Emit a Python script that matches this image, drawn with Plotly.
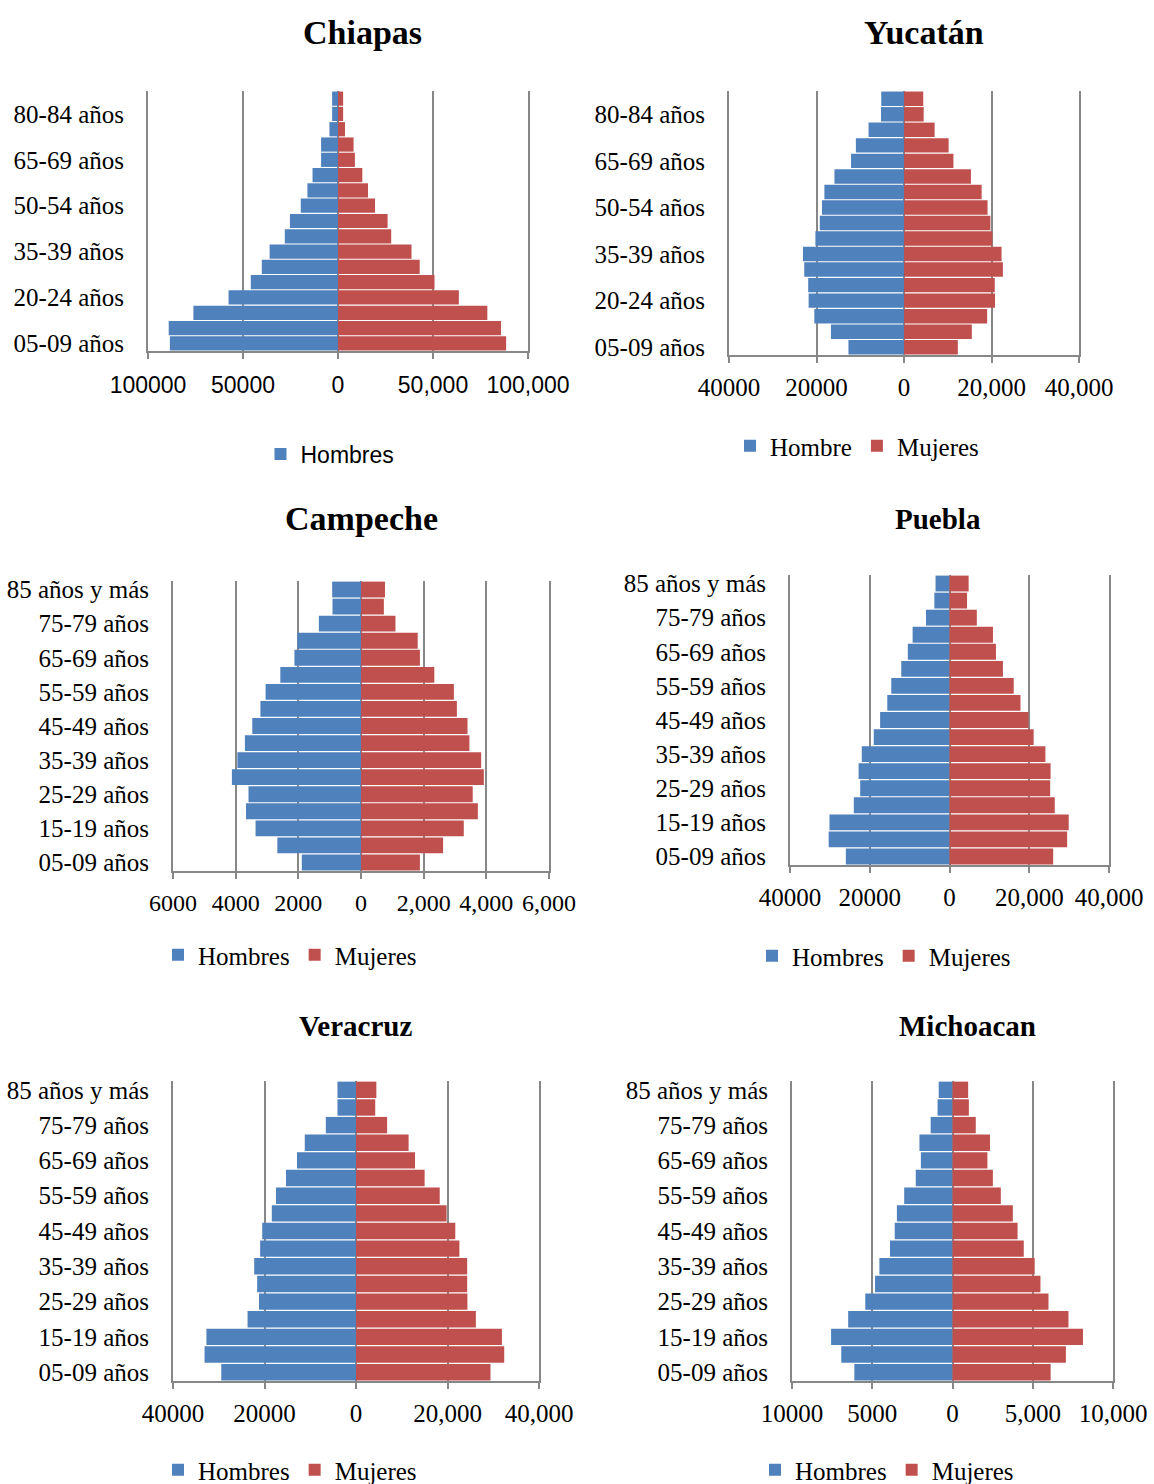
import plotly.graph_objects as go

# ---------------- data ----------------
categories = ["05-09 años", "10-14 años", "15-19 años", "20-24 años", "25-29 años",
              "30-34 años", "35-39 años", "40-44 años", "45-49 años", "50-54 años",
              "55-59 años", "60-64 años", "65-69 años", "70-74 años", "75-79 años",
              "80-84 años", "85 años y más"]

chiapas_hombres = [88500, 89100, 76100, 57600, 45900, 40100, 36000, 28000, 25300, 19600,
                   16100, 13400, 8900, 8900, 4500, 3100, 3100]
chiapas_mujeres = [88500, 85800, 78600, 63600, 50800, 43000, 38700, 28000, 26100, 19500,
                   15800, 12800, 8900, 8200, 3700, 2700, 2700]

yucatan_hombre = [12700, 16700, 20500, 21800, 21900, 22800, 23100, 20250, 19250, 18750,
                  18200, 15900, 12100, 11000, 8100, 5250, 5200]
yucatan_mujeres = [12300, 15500, 19000, 20800, 20750, 22600, 22300, 20200, 19750, 19100,
                   17750, 15300, 11300, 10200, 7000, 4500, 4400]

campeche_hombres = [1890, 2670, 3365, 3670, 3590, 4120, 3945, 3705, 3470, 3210,
                    3045, 2575, 2125, 2030, 1345, 910, 920]
campeche_mujeres = [1880, 2620, 3280, 3730, 3565, 3920, 3835, 3460, 3400, 3060,
                    2965, 2340, 1880, 1810, 1100, 730, 765]

puebla_hombres = [26000, 30300, 30100, 24000, 22400, 22800, 22000, 19000, 17400, 15600,
                  14600, 12100, 10450, 9250, 5900, 3800, 3500]
puebla_mujeres = [26000, 29500, 29900, 26400, 25250, 25350, 24050, 21100, 19800, 17800,
                  16100, 13400, 11650, 10900, 6850, 4400, 4800]

veracruz_hombres = [29450, 33100, 32700, 23700, 21200, 21600, 22250, 20950, 20500, 18400,
                    17500, 15300, 12900, 11200, 6600, 4050, 4050]
veracruz_mujeres = [29400, 32400, 31900, 26200, 24350, 24300, 24300, 22600, 21700, 19800,
                    18300, 15000, 12900, 11500, 6800, 4200, 4450]

michoacan_hombres = [6115, 6930, 7565, 6500, 5435, 4825, 4555, 3895, 3600, 3465,
                     3010, 2290, 1970, 2060, 1360, 930, 860]
michoacan_mujeres = [6115, 7065, 8130, 7225, 5980, 5480, 5120, 4440, 4055, 3760,
                     3010, 2515, 2175, 2335, 1450, 1020, 975]

ticks_100k = [-100000, -50000, 0, 50000, 100000]
ticktext_100k = ["100000", "50000", "0", "50,000", "100,000"]
ticks_40k = [-40000, -20000, 0, 20000, 40000]
ticktext_40k = ["40000", "20000", "0", "20,000", "40,000"]
ticks_6k = [-6000, -4000, -2000, 0, 2000, 4000, 6000]
ticktext_6k = ["6000", "4000", "2000", "0", "2,000", "4,000", "6,000"]
ticks_10k = [-10000, -5000, 0, 5000, 10000]
ticktext_10k = ["10000", "5000", "0", "5,000", "10,000"]

titles = ["Chiapas", "Yucatán", "Campeche", "Puebla", "Veracruz", "Michoacan"]

# ---------------- style ----------------
W, H = 1154, 1484
BLUE = "#4F81BD"
RED = "#C0504D"
GRID = "#878787"
SERIF = "Liberation Serif"
SANS = "Liberation Sans"

fig = go.Figure()

panels = [
    dict(title=titles[0], h=chiapas_hombres, m=chiapas_mujeres, nh="Hombres", legm=False,
         tv=ticks_100k, tt=ticktext_100k, step=3, box=(148, 528, 91, 351),
         tpos=(362, 32), tsize=34, lpos=(330, 454), tfont=SANS, tfsize=23, lfont=SANS, lfsize=23,
         xstand=6),
    dict(title=titles[1], h=yucatan_hombre, m=yucatan_mujeres, nh="Hombre", legm=True,
         tv=ticks_40k, tt=ticktext_40k, step=3, box=(729, 1079, 91, 355),
         tpos=(924, 32), tsize=34, lpos=(857, 446), tfont=SERIF, tfsize=25, lfont=SERIF, lfsize=25,
         xstand=3),
    dict(title=titles[2], h=campeche_hombres, m=campeche_mujeres, nh="Hombres", legm=True,
         tv=ticks_6k, tt=ticktext_6k, step=2, box=(173, 549, 581, 871),
         tpos=(361, 518), tsize=34, lpos=(290, 955), tfont=SERIF, tfsize=24, lfont=SERIF, lfsize=25,
         xstand=3),
    dict(title=titles[3], h=puebla_hombres, m=puebla_mujeres, nh="Hombres", legm=True,
         tv=ticks_40k, tt=ticktext_40k, step=2, box=(790, 1109, 575, 865),
         tpos=(938, 519), tsize=29, lpos=(884, 956), tfont=SERIF, tfsize=25, lfont=SERIF, lfsize=25,
         xstand=3),
    dict(title=titles[4], h=veracruz_hombres, m=veracruz_mujeres, nh="Hombres", legm=True,
         tv=ticks_40k, tt=ticktext_40k, step=2, box=(173, 539, 1081, 1381),
         tpos=(355, 1026), tsize=29, lpos=(290, 1470), tfont=SERIF, tfsize=25, lfont=SERIF, lfsize=25,
         xstand=3),
    dict(title=titles[5], h=michoacan_hombres, m=michoacan_mujeres, nh="Hombres", legm=True,
         tv=ticks_10k, tt=ticktext_10k, step=2, box=(792, 1113, 1081, 1381),
         tpos=(967, 1026), tsize=29, lpos=(887, 1470), tfont=SERIF, tfsize=25, lfont=SERIF, lfsize=25,
         xstand=3),
]

annotations = []
layout_axes = {}
for i, p in enumerate(panels, start=1):
    xa = "x" if i == 1 else f"x{i}"
    ya = "y" if i == 1 else f"y{i}"
    lg = "legend" if i == 1 else f"legend{i}"
    fig.add_trace(go.Bar(
        y=categories, x=[-v for v in p["h"]], orientation="h", name=p["nh"],
        marker=dict(color=BLUE, line=dict(width=0)), xaxis=xa, yaxis=ya, legend=lg,
    ))
    fig.add_trace(go.Bar(
        y=categories, x=p["m"], orientation="h", name="Mujeres",
        marker=dict(color=RED, line=dict(width=0)), xaxis=xa, yaxis=ya, legend=lg,
        showlegend=p["legm"],
    ))
    x0, x1, yt, yb = p["box"]
    xkey = "xaxis" if i == 1 else f"xaxis{i}"
    ykey = "yaxis" if i == 1 else f"yaxis{i}"
    layout_axes[xkey] = dict(
        domain=[x0 / W, x1 / W], anchor=ya, range=[p["tv"][0], p["tv"][-1]],
        tickmode="array", tickvals=p["tv"], ticktext=p["tt"],
        showgrid=True, gridcolor=GRID, gridwidth=2, zeroline=False,
        showline=True, linecolor=GRID, linewidth=2, ticks="outside", ticklen=6,
        tickcolor=GRID, tickwidth=2, ticklabelstandoff=p["xstand"], automargin=False,
        tickfont=dict(family=p["tfont"], size=p["tfsize"], color="#000"), fixedrange=True,
    )
    labels = categories[::p["step"]]
    layout_axes[ykey] = dict(
        domain=[1 - yb / H, 1 - yt / H], anchor=xa, type="category",
        categoryorder="array", categoryarray=categories,
        tickmode="array", tickvals=labels, ticktext=labels,
        showgrid=False, zeroline=False, showline=True, mirror=True,
        linecolor=GRID, linewidth=2, ticks="", automargin=False,
        ticklabelstandoff=17,
        tickfont=dict(family=SERIF, size=25, color="#000"), fixedrange=True,
    )
    layout_axes[lg] = dict(
        x=p["lpos"][0] / W, y=1 - p["lpos"][1] / H, xanchor="center", yanchor="middle",
        orientation="h", font=dict(family=p["lfont"], size=p["lfsize"], color="#000"),
        bgcolor="rgba(0,0,0,0)", itemwidth=30, tracegroupgap=0,
    )
    annotations.append(dict(
        text=f"<b>{p['title']}</b>", x=p["tpos"][0] / W, y=1 - p["tpos"][1] / H,
        xref="paper", yref="paper", xanchor="center", yanchor="middle", showarrow=False,
        font=dict(family=SERIF, size=p["tsize"], color="#000"),
    ))

fig.update_layout(
    width=W, height=H, margin=dict(l=0, r=0, t=0, b=0, autoexpand=False),
    paper_bgcolor="white", plot_bgcolor="white",
    barmode="overlay", bargap=0.07,
    annotations=annotations, **layout_axes,
)

fig.write_html("out.html", config={"displayModeBar": False},
               post_script="document.body.style.margin='0px';")
